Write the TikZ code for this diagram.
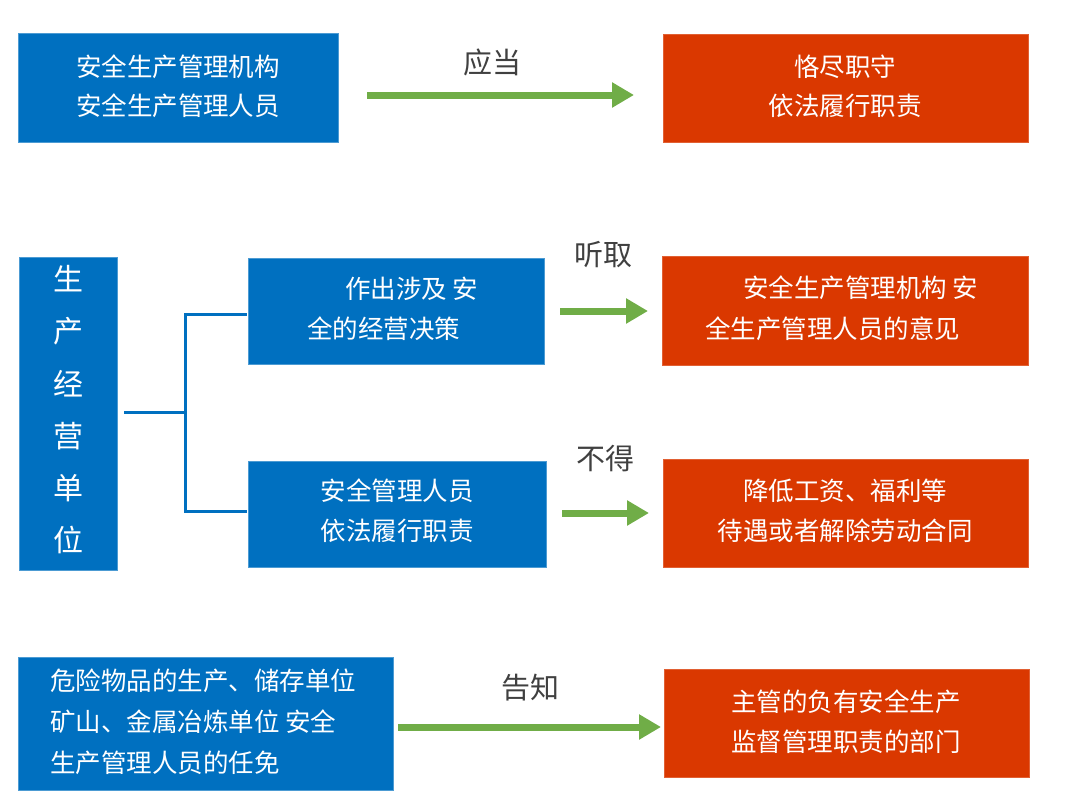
\documentclass[tikz,border=0pt]{standalone}
\usepackage{fontspec}
\setmainfont{Noto Sans CJK SC}
\newfontfamily\cjk{Noto Sans CJK SC}
\usetikzlibrary{arrows.meta}
\definecolor{bblue}{RGB}{0,112,192}
\definecolor{rred}{RGB}{218,56,0}
\definecolor{ggreen}{RGB}{112,173,71}
\definecolor{lbl}{RGB}{64,64,64}
\tikzset{
  bluebox/.style={fill=bblue,draw=bblue!70!white,line width=0.8pt},
  redbox/.style={fill=rred,draw=rred!80!white,line width=0.8pt},
  wtxt/.style={text=white,font=\cjk\fontsize{25.5}{28}\selectfont,inner sep=0pt,anchor=center},
  wtxtl/.style={text=white,font=\cjk\fontsize{25.5}{28}\selectfont,inner sep=0pt,anchor=west},
  vtxt/.style={text=white,font=\cjk\fontsize{30}{32}\selectfont,inner sep=0pt,anchor=center},
  lbltxt/.style={text=lbl,font=\cjk\fontsize{29}{32}\selectfont,inner sep=0pt},
  garrow/.style={draw=ggreen,line width=7pt,-{Triangle[length=22pt,width=24pt]}},
  brk/.style={draw=bblue,line width=3pt},
}
\begin{document}
\begin{tikzpicture}[x=1pt,y=-1pt]
\useasboundingbox (0,0) rectangle (1080,811);
% top row
\path[bluebox] (18,33) rectangle (338,142);
\node[wtxt] (t1a) at (178,67) {安全生产管理机构};
\node[wtxt] (t1b) at (178,106) {安全生产管理人员};
\path[redbox] (663,34) rectangle (1028,142);
\node[wtxt] (r1a) at (845,67) {恪尽职守};
\node[wtxt] (r1b) at (845,106) {依法履行职责};
\coordinate (a1s) at (367,95);
\coordinate (a1e) at (634,95);
\draw[garrow] (a1s) -- (a1e);
\node[lbltxt] (l1) at (492,62) {应当};
% middle
\path[bluebox] (19,257) rectangle (117,570);
\foreach \c/\yy [count=\i] in {生/279,产/331,经/384,营/436,单/488,位/540}
  \node[vtxt] (v\i) at (68,\yy) {\c};
\coordinate (j0) at (124,412);
\coordinate (j1) at (185,412);
\coordinate (j2) at (185,314);
\coordinate (j3) at (245,314);
\coordinate (j4) at (185,511);
\coordinate (j5) at (245,511);
\draw[brk] (j0) -- (j1);
\draw[brk,line cap=rect] (j3) -- (j2) -- (j4) -- (j5);
\path[bluebox] (248,258) rectangle (544,364);
\node[wtxtl] (ma1) at (345,289) {作出涉及 安};
\node[wtxtl] (ma2) at (307,329) {全的经营决策};
\path[redbox] (662,256) rectangle (1028,365);
\node[wtxtl] (ra1) at (743,288) {安全生产管理机构 安};
\node[wtxtl] (ra2) at (705,329) {全生产管理人员的意见};
\coordinate (a2s) at (560,311);
\coordinate (a2e) at (648,311);
\draw[garrow] (a2s) -- (a2e);
\node[lbltxt] (l2) at (603,255) {听取};
\path[bluebox] (248,461) rectangle (546,567);
\node[wtxt] (mb1) at (397,491) {安全管理人员};
\node[wtxt] (mb2) at (397,531) {依法履行职责};
\path[redbox] (663,459) rectangle (1028,567);
\node[wtxt] (rb1) at (845,491) {降低工资、福利等};
\node[wtxt] (rb2) at (845,531) {待遇或者解除劳动合同};
\coordinate (a3s) at (562,513);
\coordinate (a3e) at (649,513);
\draw[garrow] (a3s) -- (a3e);
\node[lbltxt] (l3) at (605,459) {不得};
% bottom
\path[bluebox] (18,657) rectangle (393,790);
\node[wtxtl] (c1) at (50,681) {危险物品的生产、储存单位};
\node[wtxtl] (c2) at (50,722) {矿山、金属冶炼单位 安全};
\node[wtxtl] (c3) at (50,763) {生产管理人员的任免};
\path[redbox] (664,669) rectangle (1029,777);
\node[wtxt] (rc1) at (846,702) {主管的负有安全生产};
\node[wtxt] (rc2) at (846,742) {监督管理职责的部门};
\coordinate (a4s) at (398,727);
\coordinate (a4e) at (661,727);
\draw[garrow] (a4s) -- (a4e);
\node[lbltxt] (l4) at (530,688) {告知};
\end{tikzpicture}
\end{document}
